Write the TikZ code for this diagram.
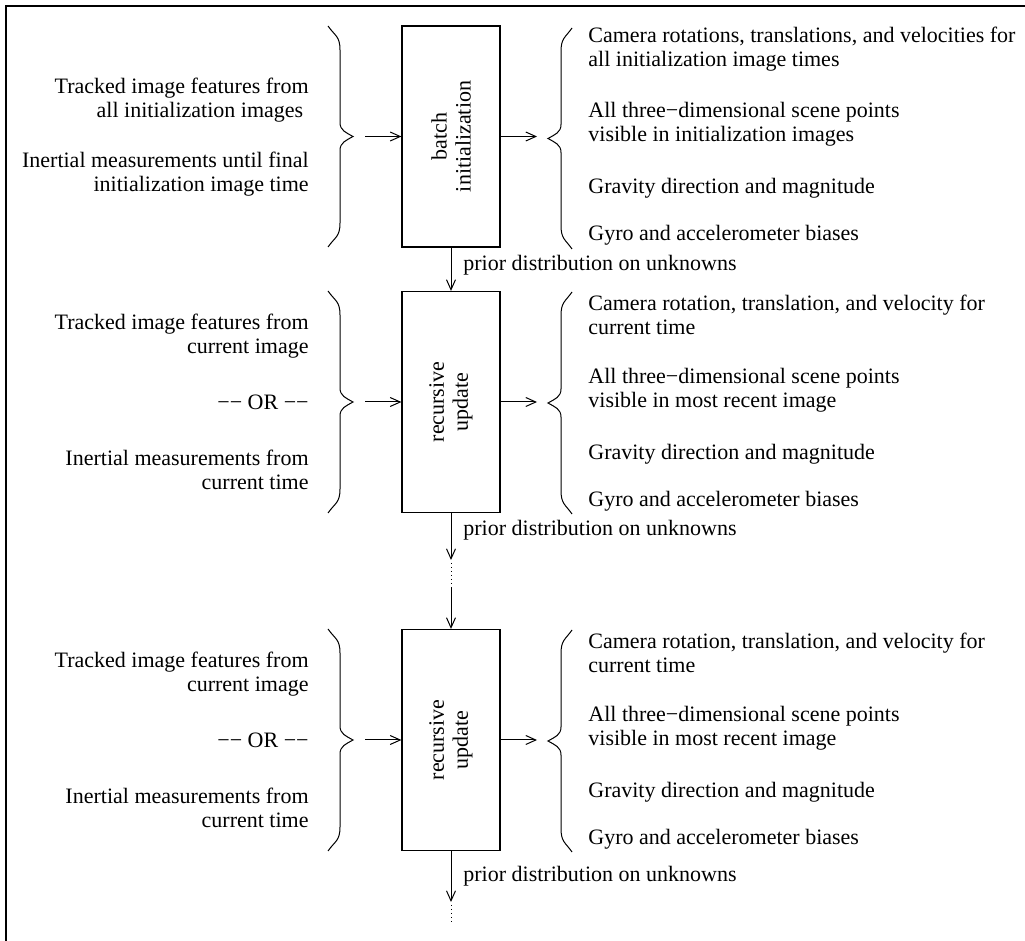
\documentclass[tikz,border=0pt]{standalone}
\usepackage{fontspec}
\setmainfont{Liberation Serif}
\usetikzlibrary{arrows.meta}
\tikzset{
 every node/.style={font=\fontsize{11}{12}\selectfont, inner sep=0pt},
 procbox/.style={draw, line width=0.6pt, minimum width=49pt, minimum height=110.5pt},
 boxtext/.style={rotate=90, align=center},
 intext/.style={anchor=east, align=right},
 outtext/.style={anchor=west, align=left},
 flow/.style={line width=0.5pt, -{Straight Barb[length=5pt,width=4.5pt]}},
 dots/.style={line width=0.5pt, dash pattern=on 0.4pt off 1.6pt},
 brline/.style={line width=0.5pt},
 priorlbl/.style={anchor=west},
 frameline/.style={line width=0.8pt},
}
% "}" brace: #1 x of ends, #2 top y, #3 bottom y (pixel units)
\newcommand\BrClose[3]{%
  \pgfmathsetmacro\BrMid{(#2+#3)/2}%
  \draw[brline] (#1,#2) .. controls +(7,10) and +(0,-14) .. (#1+12,#2+24)
    -- (#1+12,\BrMid-14) .. controls +(0,8) and +(-7,-4) .. (#1+25,\BrMid)
    .. controls +(-7,4) and +(0,-8) .. (#1+12,\BrMid+14)
    -- (#1+12,#3-24) .. controls +(0,14) and +(7,-10) .. (#1,#3);}
% "{" brace
\newcommand\BrOpen[3]{%
  \pgfmathsetmacro\BrMid{(#2+#3)/2}%
  \draw[brline] (#1,#2) .. controls +(-7,10) and +(0,-14) .. (#1-11,#2+24)
    -- (#1-11,\BrMid-14) .. controls +(0,8) and +(7,-4) .. (#1-24,\BrMid)
    .. controls +(7,4) and +(0,-8) .. (#1-11,\BrMid+14)
    -- (#1-11,#3-24) .. controls +(0,14) and +(-7,-10) .. (#1,#3);}
\begin{document}
\begin{tikzpicture}[x=0.5pt,y=-0.5pt]
\useasboundingbox (0,0) rectangle (1025,941);
\clip (0,0) rectangle (1025,941);
\node[anchor=base] (cap) at (522,-6) {(a)};
\draw[frameline] (6,941) -- (6,6) -- (1025,6);

% ---- row 1 ----
\node[procbox] (b1) at (451,136.5) {};
\node[boxtext] (t1) at (b1.center) {batch\\initialization};
\node[intext] (i1a) at (309,100) {Tracked image features from\\all initialization images\hspace*{2.7pt}};
\node[intext] (i1b) at (309,174) {Inertial measurements until final\\initialization image time};
\node[outtext] (o1a) at (588,49.5) {Camera rotations, translations, and velocities for\\all initialization image times};
\node[outtext] (o1b) at (588,124.5) {All three−dimensional scene points\\visible in initialization images};
\node[outtext] (o1c) at (588,188.5) {Gravity direction and magnitude};
\node[outtext] (o1d) at (588,235.5) {Gyro and accelerometer biases};
\BrClose{328}{26}{247}
\BrOpen{572}{28}{249}
\coordinate (l1) at (365,136.5);
\coordinate (r1) at (537,136.5);
\draw[flow] (l1) -- (b1.west);
\draw[flow] (b1.east) -- (r1);

% ---- row 2 ----
\node[procbox] (b2) at (451,402) {};
\node[boxtext] (t2) at (b2.center) {recursive\\update};
\draw[flow] (b1.south) -- (b2.north);
\node[priorlbl] (p1) at (463,265) {prior distribution on unknowns};
\node[intext] (i2a) at (309,336) {Tracked image features from\\current image};
\node[intext] (i2b) at (309,402) {−− OR −−};
\node[intext] (i2c) at (309,469.5) {Inertial measurements from\\current time};
\node[outtext] (o2a) at (588,315) {Camera rotation, translation, and velocity for\\current time};
\node[outtext] (o2b) at (588,390) {All three−dimensional scene points\\visible in most recent image};
\node[outtext] (o2c) at (588,454) {Gravity direction and magnitude};
\node[outtext] (o2d) at (588,501) {Gyro and accelerometer biases};
\BrClose{328}{291}{513}
\BrOpen{572}{292}{514}
\coordinate (l2) at (365,402);
\coordinate (r2) at (537,402);
\draw[flow] (l2) -- (b2.west);
\draw[flow] (b2.east) -- (r2);

% ---- gap ----
\node[procbox] (b3) at (451,740) {};
\coordinate (d2a) at (451,560);
\coordinate (d2b) at (451,563);
\coordinate (d2c) at (451,588);
\draw[flow] (b2.south) -- (d2a);
\draw[dots] (d2b) -- (d2c);
\draw[flow] (d2c) -- (b3.north);
\node[priorlbl] (p2) at (463,530) {prior distribution on unknowns};

% ---- row 3 ----
\node[boxtext] (t3) at (b3.center) {recursive\\update};
\node[intext] (i3a) at (309,674) {Tracked image features from\\current image};
\node[intext] (i3b) at (309,740) {−− OR −−};
\node[intext] (i3c) at (309,807.5) {Inertial measurements from\\current time};
\node[outtext] (o3a) at (588,653) {Camera rotation, translation, and velocity for\\current time};
\node[outtext] (o3b) at (588,728) {All three−dimensional scene points\\visible in most recent image};
\node[outtext] (o3c) at (588,792) {Gravity direction and magnitude};
\node[outtext] (o3d) at (588,839) {Gyro and accelerometer biases};
\BrClose{328}{629}{851}
\BrOpen{572}{630}{852}
\coordinate (l3) at (365,740);
\coordinate (r3) at (537,740);
\draw[flow] (l3) -- (b3.west);
\draw[flow] (b3.east) -- (r3);

% ---- tail ----
\coordinate (d3a) at (451,902);
\coordinate (d3b) at (451,905);
\coordinate (d3c) at (451,922);
\draw[flow] (b3.south) -- (d3a);
\draw[dots] (d3b) -- (d3c);
\node[priorlbl] (p3) at (463,876) {prior distribution on unknowns};
\end{tikzpicture}
\end{document}
